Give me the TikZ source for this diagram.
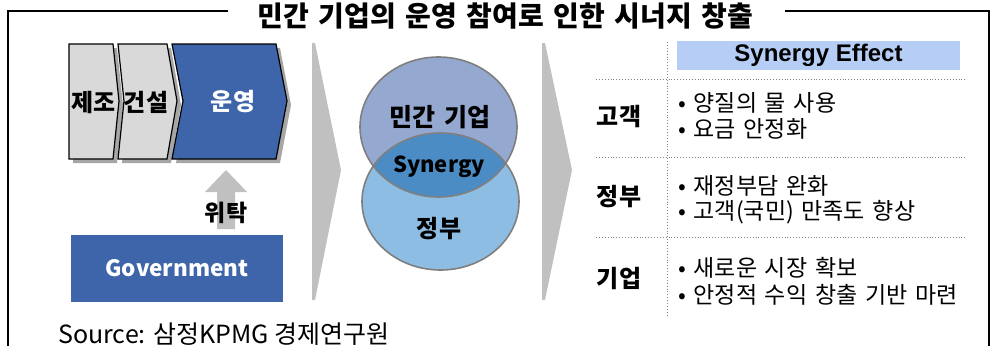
\documentclass[tikz,border=0pt]{standalone}
\usepackage{fontspec}
\setmainfont{Noto Sans CJK KR}[WordSpace=1.5]
\newfontfamily\srcfont{Noto Sans CJK KR}
\newfontfamily\arialfont{Liberation Sans}
\usetikzlibrary{shapes.geometric}
\definecolor{pblue}{HTML}{3E64A9}
\definecolor{chgray}{HTML}{D9D9D9}
\definecolor{shgray}{HTML}{A6A6A6}
\definecolor{arrgray}{HTML}{C0C0C0}
\definecolor{venntop}{HTML}{94A8D0}
\definecolor{vennbot}{HTML}{8DBDE2}
\definecolor{vennmid}{HTML}{4C8CC5}
\definecolor{vennline}{HTML}{7F7F7F}
\definecolor{hdrblue}{HTML}{B6CEF5}
\definecolor{dotgray}{HTML}{808080}
\begin{document}
\begin{tikzpicture}[x=1pt,y=-1pt,
  frameline/.style={line width=1.4pt,black},
  chev/.style={draw=black,line width=1.2pt,line join=miter},
  shadowshape/.style={fill=shgray},
  bigarrow/.style={fill=arrgray,draw=none},
  vennline/.style={draw=vennline,line width=1.6pt},
  tabline/.style={draw=dotgray,dotted,line width=0.9pt},
  boldlabel/.style={font=\fontsize{24}{27}\selectfont\bfseries,inner sep=0pt},
  bullettext/.style={font=\fontsize{23}{26}\selectfont,inner sep=0pt,anchor=west},
]
\useasboundingbox (0,0) rectangle (996,346);

% frame
\draw[frameline] (228,11) -- (8,11) -- (8,346);
\draw[frameline] (785,11) -- (989,11) -- (989,346);
\node[font=\fontsize{28}{31}\selectfont\bfseries,inner sep=0pt] (title) at (505.5,16) {민간 기업의 운영 참여로 인한 시너지 창출};

% chevron shadows
\fill[shadowshape] (73,48) -- (117,48) -- (123,105) -- (117,163) -- (73,163) -- cycle;
\fill[shadowshape] (122,48) -- (171,48) -- (181,105) -- (171,163) -- (122,163) -- (128,105) -- cycle;
\fill[shadowshape] (176,48) -- (280,48) -- (291,105) -- (280,163) -- (176,163) -- (187,105) -- cycle;

% chevrons
\filldraw[chev,fill=chgray] (69,44) -- (113,44) -- (119,101) -- (113,159) -- (69,159) -- cycle;
\filldraw[chev,fill=chgray] (118,44) -- (167,44) -- (177,101) -- (167,159) -- (118,159) -- (124,101) -- cycle;
\filldraw[chev,fill=pblue] (172,44) -- (276,44) -- (287,101) -- (276,159) -- (172,159) -- (183,101) -- cycle;
\node[boldlabel] (jejo) at (93.5,102) {제조};
\node[boldlabel] (geonseol) at (146,102) {건설};
\node[boldlabel,text=white] (unyeong) at (233,102) {운영};

% up arrow
\fill[arrgray] (217,229) -- (217,192) -- (205,192) -- (226,170) -- (247,192) -- (235,192) -- (235,229) -- cycle;
\node[font=\fontsize{23}{26}\selectfont\bfseries,inner sep=0pt] (witak) at (226,213) {위탁};

% government box
\node[fill=pblue,minimum width=212pt,minimum height=67pt,inner sep=0pt,
  font=\fontsize{22.5}{25}\selectfont\bfseries,text=white] (gov) at (177,268.5) {Government};

% big gray arrows
\fill[bigarrow] (312,43) -- (315,43) -- (341,170) -- (315,300) -- (312,300) -- cycle;
\fill[bigarrow] (542,43) -- (545,43) -- (572,170) -- (545,300) -- (542,300) -- cycle;

% venn
\fill[venntop] (438.5,127) ellipse [x radius=78.5, y radius=70];
\fill[vennbot] (440.5,201.5) ellipse [x radius=78.5, y radius=68.5];
\begin{scope}
  \clip (438.5,127) ellipse [x radius=78.5, y radius=70];
  \fill[vennmid] (440.5,201.5) ellipse [x radius=78.5, y radius=68.5];
\end{scope}
\draw[vennline] (438.5,127) ellipse [x radius=78.5, y radius=70];
\draw[vennline] (440.5,201.5) ellipse [x radius=78.5, y radius=68.5];
\node[font=\fontsize{25}{28}\selectfont\bfseries,inner sep=0pt] (minkan) at (440,117) {민간 기업};
\node[font=\fontsize{22}{25}\selectfont\bfseries,inner sep=0pt] (synergy) at (439,167) {Synergy};
\node[boldlabel] (jeongbu) at (439,229) {정부};

% table
\node[fill=hdrblue,minimum width=283pt,minimum height=29pt,inner sep=0pt,
  font=\arialfont\fontsize{24}{26}\selectfont\bfseries] (hdr) at (818.5,55.5) {Synergy Effect};
\coordinate (vtop) at (667,42);
\coordinate (vbot) at (667,317);
\draw[tabline] (vtop) -- (vbot);
\coordinate (h1a) at (596,79);  \coordinate (h1b) at (965,79);
\coordinate (h2a) at (596,157); \coordinate (h2b) at (965,157);
\coordinate (h3a) at (596,237); \coordinate (h3b) at (965,237);
\draw[tabline] (h1a) -- (h1b);
\draw[tabline] (h2a) -- (h2b);
\draw[tabline] (h3a) -- (h3b);

\node[boldlabel] (r1) at (619,117) {고객};
\node[boldlabel] (r2) at (619,197) {정부};
\node[boldlabel] (r3) at (619,278) {기업};

\node[bullettext] (b11) at (678,103) {• 양질의 물 사용};
\node[bullettext] (b12) at (678,129) {• 요금 안정화};
\node[bullettext] (b21) at (678,186) {• 재정부담 완화};
\node[bullettext] (b22) at (678,212) {• 고객(국민) 만족도 향상};
\node[bullettext] (b31) at (678,268) {• 새로운 시장 확보};
\node[bullettext] (b32) at (678,295) {• 안정적 수익 창출 기반 마련};

% source
\node[font=\srcfont\fontsize{25}{28}\selectfont,inner sep=0pt,anchor=base west] (src) at (58,343) {Source: 삼정KPMG 경제연구원};
\end{tikzpicture}
\end{document}
